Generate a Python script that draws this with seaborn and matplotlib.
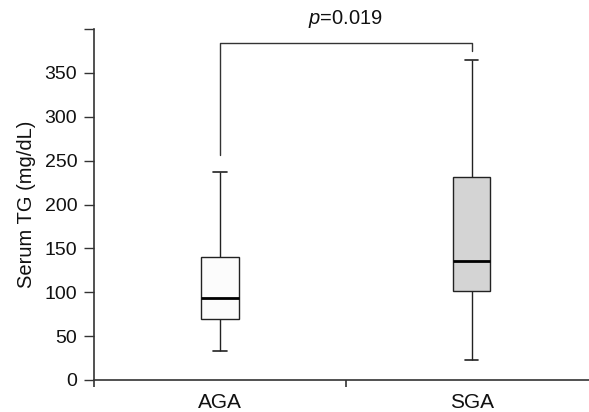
import numpy as np
import pandas as pd
import matplotlib
matplotlib.use("Agg")
import matplotlib.pyplot as plt
import seaborn as sns

# five-number summaries: min, Q1, median, Q3, max
groups = ["AGA", "SGA"]
aga_vals = [33, 69, 94, 140, 237]
sga_vals = [23, 101, 136, 231, 365]
box_colors = ["#fcfcfc", "#d4d4d4"]

y_ticks = [0, 50, 100, 150, 200, 250, 300, 350, 400]
y_labels = ["0", "50", "100", "150", "200", "250", "300", "350", ""]

p_text = "$p$=0.019"
bracket_top = 384
bracket_ends = [256, 375]

sns.set_theme(style="ticks")
plt.rcParams["font.family"] = ["Liberation Sans", "DejaVu Sans"]
plt.rcParams["mathtext.fontset"] = "custom"
plt.rcParams["mathtext.it"] = "Liberation Sans:italic"
plt.rcParams["mathtext.rm"] = "Liberation Sans"

df = pd.DataFrame({
    "group": ["AGA"] * len(aga_vals) + ["SGA"] * len(sga_vals),
    "TG": aga_vals + sga_vals,
})

fig = plt.figure(figsize=(5.89, 4.12), dpi=100)
ax = fig.add_axes([94 / 589, 32 / 412, 503.4 / 589, 351 / 412])

line_c = "#222222"
sns.boxplot(data=df, x="group", y="TG", hue="group", palette=box_colors,
            order=groups, whis=(0, 100), width=0.15, linewidth=1.0,
            linecolor=line_c, legend=False, ax=ax,
            medianprops=dict(color="black", linewidth=2.0),
            capprops=dict(color=line_c, linewidth=1.2),
            whiskerprops=dict(color=line_c, linewidth=1.0))
# shrink caps a bit
for ln in ax.lines:
    xd = ln.get_xdata()
    if len(xd) == 2 and ln.get_ydata()[0] == ln.get_ydata()[1]:
        c = (xd[0] + xd[1]) / 2
        w = abs(xd[1] - xd[0])
        if w < 0.1:
            ln.set_xdata([c - 0.027, c + 0.027])

ax.set_xlim(-0.5, 1.5)
ax.set_ylim(0, 400)
ax.set_yticks(y_ticks)
ax.set_yticklabels(y_labels)
ax.set_xlabel("")
ax.set_ylabel("Serum TG (mg/dL)", fontsize=14.5, color="#111111", labelpad=6)

ax.set_xticks([-0.5, 0.5, 1.5], minor=True)
ax.tick_params(axis="x", which="major", length=0, labelsize=15, pad=9, colors="#111111")
ax.tick_params(axis="x", which="minor", length=5, width=1.2, color="#333333")
ax.tick_params(axis="y", length=7, width=1.0, pad=5, labelsize=14,
               color="#333333", labelcolor="#111111")

for s in ["top", "right"]:
    ax.spines[s].set_visible(False)
for s in ["left", "bottom"]:
    ax.spines[s].set_color("#333333")
    ax.spines[s].set_linewidth(1.2)

# significance bracket
ax.plot([0, 0, 1, 1], [bracket_ends[0], bracket_top, bracket_top, bracket_ends[1]],
        color="#333333", linewidth=1.0, clip_on=False)
ax.text(0.5, bracket_top + 22, p_text, ha="center", va="baseline", fontsize=14.5,
        color="#111111")

fig.savefig("out.png", dpi=100)
